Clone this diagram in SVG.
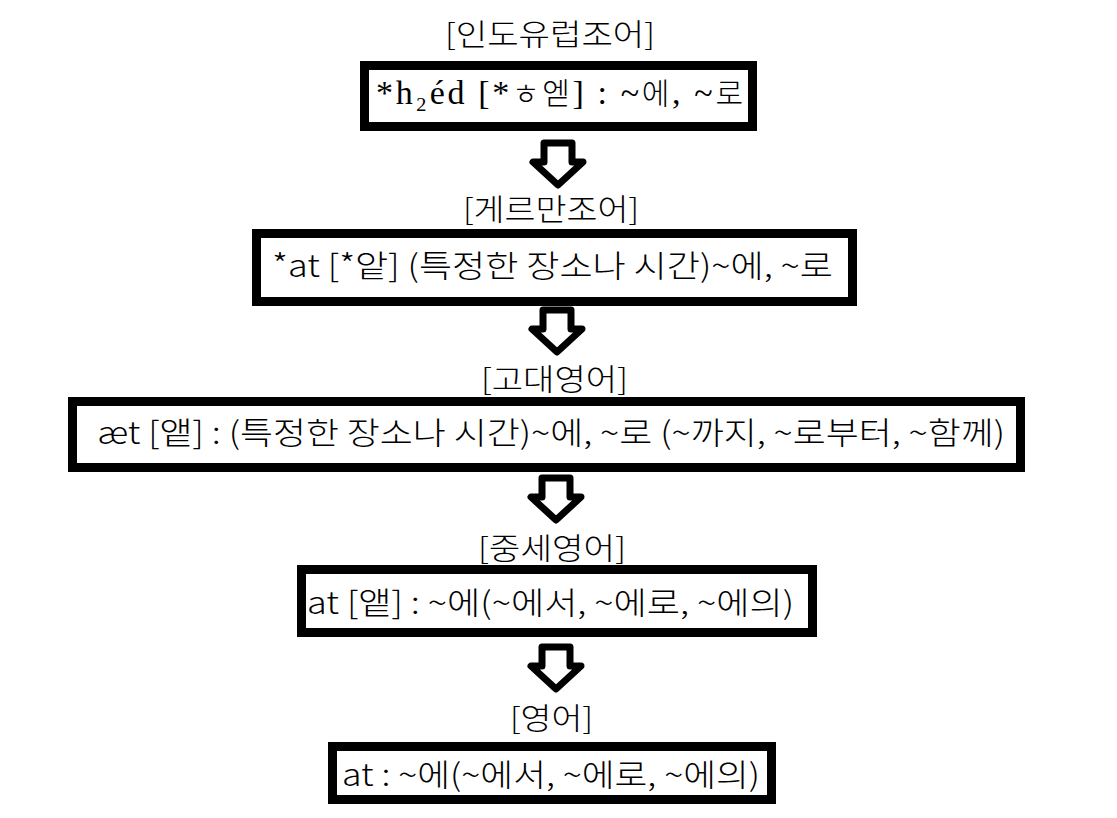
<svg xmlns="http://www.w3.org/2000/svg" width="1117" height="818" viewBox="0 0 1117 818">
<defs>
<style>
.box{fill:#fff;stroke:#000;stroke-width:9}
.arr{fill:#fff;stroke:#000;stroke-width:7;stroke-linejoin:round}
.lbl{font-family:"Noto Sans CJK KR","Liberation Sans",sans-serif;font-size:30px;fill:#000;font-weight:300}
.t{font-family:"Noto Sans CJK KR","Liberation Sans",sans-serif;font-size:31px;fill:#000;font-weight:300}
.ts{font-family:"Liberation Serif","Noto Sans CJK KR",serif;font-size:34px;fill:#000}
.h{font-family:"Noto Sans CJK KR",sans-serif;font-weight:300;font-size:30px}
</style>
<path id="arrow" d="M-14,3 H14 V22 H25 L0,45 L-25,22 H-14 Z"/>
</defs>
<rect width="1117" height="818" fill="#fff"/>
<g id="connectors">
<use href="#arrow" class="arr" x="558" y="140"/>
<use href="#arrow" class="arr" x="557" y="307"/>
<use href="#arrow" class="arr" x="556" y="475"/>
<use href="#arrow" class="arr" x="556" y="644"/>
</g>
<g id="node1">
<text class="lbl" x="445" y="45" textLength="210" lengthAdjust="spacingAndGlyphs">[인도유럽조어]</text>
<rect class="box" x="364.5" y="65.5" width="388" height="61"/>
<text class="ts" x="376" y="104" textLength="367" lengthAdjust="spacing">*h₂éd [*<tspan class="h">ㅎ엗</tspan>] : ~<tspan class="h">에</tspan>, ~<tspan class="h">로</tspan></text>
</g>
<g id="node2">
<text class="lbl" x="463" y="220" textLength="176" lengthAdjust="spacingAndGlyphs">[게르만조어]</text>
<rect class="box" x="256.5" y="233.5" width="596" height="68"/>
<text class="t" x="272" y="277" font-size="29" textLength="561" lengthAdjust="spacingAndGlyphs">*at [*앝] (특정한 장소나 시간)~에, ~로</text>
</g>
<g id="node3">
<text class="lbl" x="481" y="390" textLength="147" lengthAdjust="spacingAndGlyphs">[고대영어]</text>
<rect class="box" x="72.5" y="401.5" width="948" height="66"/>
<text class="t" x="97" y="444" textLength="908" lengthAdjust="spacingAndGlyphs">æt [앹] : (특정한 장소나 시간)~에, ~로 (~까지, ~로부터, ~함께)</text>
</g>
<g id="node4">
<text class="lbl" x="478" y="559" textLength="148" lengthAdjust="spacingAndGlyphs">[중세영어]</text>
<rect class="box" x="301.5" y="569.5" width="511" height="63"/>
<text class="t" x="307" y="614" font-size="33" textLength="487" lengthAdjust="spacingAndGlyphs">at [앹] : ~에(~에서, ~에로, ~에의)</text>
</g>
<g id="node5">
<text class="lbl" x="510" y="729" textLength="83" lengthAdjust="spacingAndGlyphs">[영어]</text>
<rect class="box" x="332.5" y="746.5" width="439" height="53"/>
<text class="t" x="342" y="786" textLength="418" lengthAdjust="spacingAndGlyphs">at : ~에(~에서, ~에로, ~에의)</text>
</g>
</svg>
